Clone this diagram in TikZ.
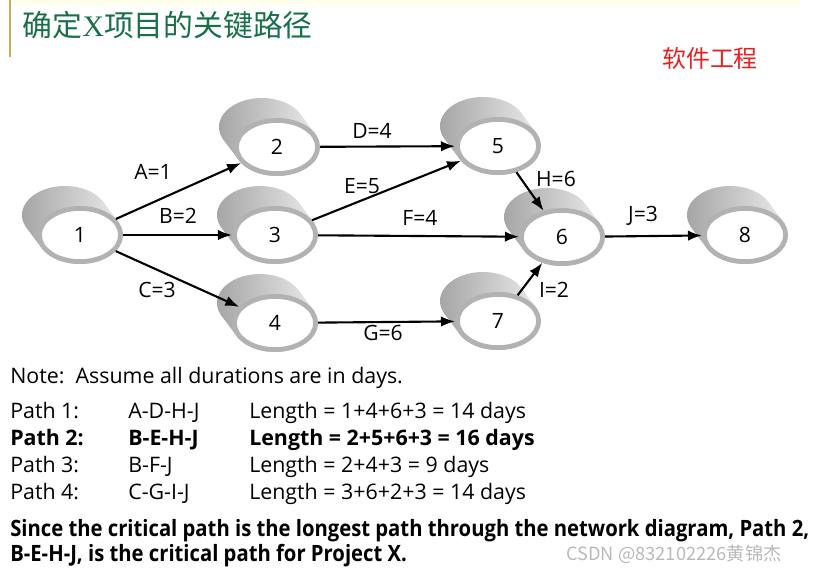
\documentclass[tikz,border=0pt]{standalone}
\usepackage{fontspec}
\setmainfont{Liberation Serif}
\setsansfont{Open Sans}
\newfontfamily\cjk{Noto Sans CJK SC}
\newfontfamily\condsans[FakeStretch=0.9]{Open Sans}
\usepackage{tikz}
\usetikzlibrary{arrows.meta,positioning,calc,shapes.geometric}
\definecolor{titlegreen}{RGB}{24,112,72}
\definecolor{titlered}{RGB}{228,32,32}
\definecolor{barbrown}{RGB}{205,170,90}
\newcommand{\EventNode}[3]{%
  \shade[left color=gray!70, right color=gray!15]
    \foreach \k in {0,...,12} {($(#2)+(-15+15*\k/12,20-20*\k/12)$) ellipse [x radius=43, y radius=29]};
  \node[event] (#1) at (#2) {#3};
}

\begin{document}
\begin{tikzpicture}[x=0.025cm, y=0.025cm,
  event/.style={ellipse, draw=gray!60, line width=0.12cm, fill=white, inner sep=0pt,
    minimum width=2.03cm, minimum height=1.33cm, font=\sffamily\fontsize{15}{17}\selectfont},
  act/.style={-{Latex[length=3.5mm,width=2.6mm]}, line width=1.5pt},
  lbl/.style={font=\sffamily\fontsize{15}{17}\selectfont, inner sep=1pt},
  txt/.style={anchor=base west, font=\sffamily\fontsize{15.2}{17}\selectfont, inner sep=0pt},
  btxt/.style={txt, font=\sffamily\bfseries\fontsize{15.2}{17}\selectfont}]
\useasboundingbox (0,0) rectangle (817,-567);
% header
\fill[yellow!8] (10,0) rectangle (800,-5);
\draw[barbrown, line width=1.5pt] (10,0) -- (10,-57);
\node[anchor=west, text=titlegreen, font=\cjk\fontsize{21.2}{25}\selectfont] (title) at (18,-25) {确定{\rmfamily X}项目的关键路径};
\node[text=titlered, font=\cjk\fontsize{17}{20}\selectfont] (course) at (710,-58) {软件工程};
% events
\EventNode{n1}{80,-235}{1}
\EventNode{n2}{277,-147}{2}
\EventNode{n3}{275,-235}{3}
\EventNode{n4}{275,-323}{4}
\EventNode{n5}{498,-146}{5}
\EventNode{n6}{562,-237}{6}
\EventNode{n7}{498,-321}{7}
\EventNode{n8}{745,-235}{8}
% activities
\draw[act] (n1) -- (n2);
\draw[act] (n1) -- (n3);
\draw[act] (n1) -- (n4);
\draw[act] (n2) -- (n5);
\draw[act] (n3) -- (n5);
\draw[act] (n3) -- (n6);
\draw[act] (n4) -- (n7);
\draw[act] (n5) -- (n6);
\draw[act] (n7) -- (n6);
\draw[act] (n6) -- (n8);
\node[lbl] (la) at (153,-172) {A=1};
\node[lbl] (lb) at (178,-216) {B=2};
\node[lbl] (lc) at (157,-290) {C=3};
\node[lbl] (ld) at (372,-131) {D=4};
\node[lbl] (le) at (362,-186) {E=5};
\node[lbl] (lf) at (420,-218) {F=4};
\node[lbl] (lg) at (383,-333) {G=6};
\node[lbl] (lh) at (556,-179) {H=6};
\node[lbl] (li) at (554,-290) {I=2};
\node[lbl] (lj) at (643,-216) {J=3};
% paths
\node[txt] (note) at (10,-383) {Note:\ \ Assume all durations are in days.};
\node[txt] (p1) at (10,-418) {Path 1:};
\node[txt] (q1) at (128,-418) {A-D-H-J};
\node[txt] (r1) at (249,-418) {Length = 1+4+6+3 = 14 days};
\node[btxt] (p2) at (10,-445) {Path 2:};
\node[btxt] (q2) at (128,-445) {B-E-H-J};
\node[btxt] (r2) at (249,-445) {Length = 2+5+6+3 = 16 days};
\node[txt] (p3) at (10,-472) {Path 3:};
\node[txt] (q3) at (128,-472) {B-F-J};
\node[txt] (r3) at (249,-472) {Length = 2+4+3 = 9 days};
\node[txt] (p4) at (10,-499) {Path 4:};
\node[txt] (q4) at (128,-499) {C-G-I-J};
\node[txt] (r4) at (249,-499) {Length = 3+6+2+3 = 14 days};
% conclusion
\node[txt, font=\condsans\bfseries\fontsize{16}{18}\selectfont] (since) at (10,-536) {Since the critical path is the longest path through the network diagram, Path 2,};
\node[txt, font=\condsans\bfseries\fontsize{16}{18}\selectfont] (since2) at (10,-561) {B-E-H-J, is the critical path for Project X.};
\node[anchor=base west, inner sep=0pt, text=gray!55, font=\cjk\fontsize{13}{15}\selectfont] (mark) at (566,-560) {CSDN @832102226黄锦杰};
\end{tikzpicture}
\end{document}
